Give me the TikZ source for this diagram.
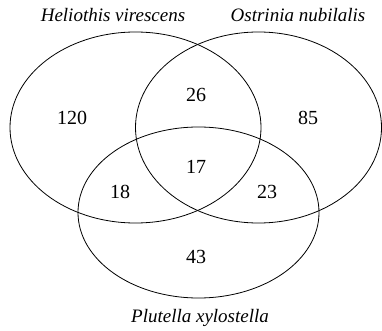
\documentclass[tikz,border=0pt]{standalone}
\usepackage{fontspec}
\setmainfont{Liberation Serif}
\usetikzlibrary{positioning}
\tikzset{
    set/.style={draw, line width=0.8pt},
    count/.style={font=\fontsize{20}{23}\selectfont, inner sep=0pt},
    species/.style={font=\fontsize{19}{22}\selectfont\itshape, inner sep=0pt}
}

\begin{document}
\begin{tikzpicture}[x=1pt, y=-1pt]
    \useasboundingbox (0,0) rectangle (382,331);
    % the three sets
    \draw[set] (135.5,127.5) ellipse [x radius=125.5, y radius=95.5];
    \draw[set] (258.5,127.5) ellipse [x radius=123, y radius=95.5];
    \draw[set] (198.5,212.5) ellipse [x radius=120.5, y radius=85.5];

    \node[species] (hv) at (113,15) {Heliothis virescens};
    \node[species] (on) at (298,15) {Ostrinia nubilalis};
    \node[species] (px) at (200,318) {Plutella xylostella};

    \node[count] (hvOnly) at (72,118) {120};
    \node[count] (onOnly) at (308,118) {85};
    \node[count] (pxOnly) at (196,257) {43};
    \node[count] (hvOn) at (196,95) {26};
    \node[count] (hvPx) at (120,192) {18};
    \node[count] (onPx) at (267,192) {23};
    \node[count] (all) at (196,167) {17};
\end{tikzpicture}
\end{document}
